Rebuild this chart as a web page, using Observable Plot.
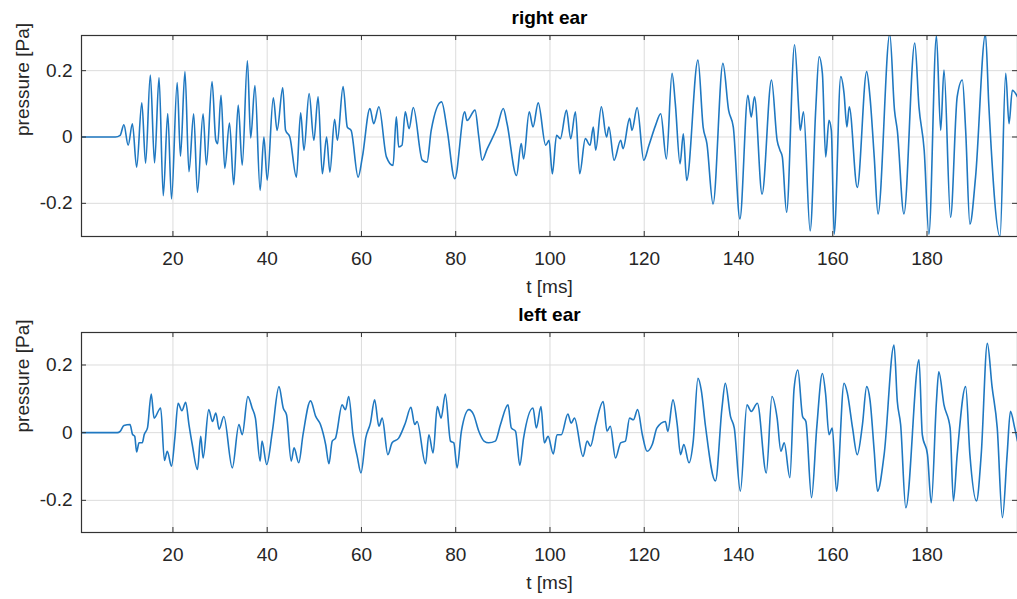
<!DOCTYPE html>
<html><head><meta charset="utf-8">
<script src="https://cdn.jsdelivr.net/npm/d3@7"></script>
<script src="https://cdn.jsdelivr.net/npm/@observablehq/plot@0.6"></script>
<style>
body{margin:0;background:#fff;}
#chart svg{display:block;}
</style></head><body><div id="chart"></div>
<script>
const xTicks = [20, 40, 60, 80, 100, 120, 140, 160, 180];
const yTicks = [-0.2, 0, 0.2];
const yTickLabels = ["-0.2", "0", "0.2"];
const titles = ["right ear", "left ear"];
const xLabel = "t [ms]";
const yLabel = "pressure [Pa]";

// right ear: time [ms] and pressure [Pa]
const tRight = [0.7,7.8,8.8,9.6,10.5,11.4,12.3,13.4,14.2,15.2,16.1,17.05,17.95,18.9,19.7,20.9,21.6,22.55,23.4,24.4,25.2,26.4,27.1,28.3,29.1,29.5,30.2,31.0,32.0,32.9,33.85,34.7,35.8,36.5,37.4,38.5,39.3,40.0,41.3,42.1,43.3,43.9,44.8,46.2,47.1,47.8,48.9,49.9,50.8,51.7,52.6,53.3,54.3,54.9,56.1,57.0,57.8,59.3,60.2,61.8,62.6,63.7,65.3,66.7,67.4,67.9,68.6,69.3,70.1,71.0,72.9,73.9,74.8,77.0,78.2,79.8,81.9,82.4,84.1,84.9,85.6,86.7,88.8,90.1,90.9,92.9,93.9,94.4,95.6,96.4,97.5,99.1,99.8,100.5,101.4,102.2,103.5,104.4,105.4,106.3,107.5,108.5,109.2,109.7,110.9,112.0,112.5,113.6,115.0,115.5,116.9,117.4,118.5,119.9,121.0,122.4,123.5,124.7,125.9,126.6,127.6,128.3,129.0,131.4,132.5,133.3,134.6,136.7,137.9,138.9,140.3,142.0,142.7,143.4,145.0,147.0,148.2,148.8,149.3,150.2,151.9,152.8,153.1,153.8,155.2,156.4,157.1,157.8,158.5,159.2,159.7,160.3,161.7,162.4,163.0,163.5,165.2,167.2,167.9,168.8,169.6,172.1,173.1,173.7,175.1,177.4,178.3,179.4,180.4,182.0,182.9,183.6,185.0,186.4,187.5,188.2,189.1,190.3,192.4,193.1,195.5,196.7,197.4,198.1,199.2];
const pRight = [0,0,0.005,0.037,-0.025,0.04,-0.091,0.103,-0.079,0.187,-0.078,0.179,-0.177,0.071,-0.187,0.164,-0.058,0.197,-0.105,0.07,-0.167,0.07,-0.084,0.167,-0.01,-0.02,0.126,-0.094,0.042,-0.144,0.096,-0.085,0.23,-0.003,0.155,-0.161,0.0,-0.13,0.118,0.02,0.148,0.02,0.0,-0.121,0.073,-0.04,0.131,-0.01,0.121,-0.111,0.0,-0.106,0.053,-0.01,0.152,0.03,0.02,-0.121,-0.06,0.086,0.04,0.091,-0.06,-0.086,0.061,-0.03,-0.025,0.076,0.025,0.089,-0.07,-0.076,0.02,0.106,0.02,-0.126,0.076,0.05,0.081,0.0,-0.07,-0.035,0.03,0.086,0.04,-0.116,-0.02,-0.066,0.076,0.03,0.103,-0.025,-0.01,-0.111,0.005,-0.005,0.081,-0.005,0.076,-0.111,-0.005,-0.025,0.03,-0.04,0.091,0.0,0.03,-0.07,-0.01,-0.035,0.056,0.02,0.089,-0.07,-0.025,0.035,0.07,-0.066,0.192,0.1,-0.081,0.01,-0.131,0.232,0.03,-0.02,-0.202,0.222,0.081,0.03,-0.247,0.126,0.06,0.121,-0.172,0.172,-0.01,-0.04,-0.06,-0.227,0.278,0.08,0.02,0.076,-0.283,0.086,0.242,0.192,-0.06,0.05,0.02,-0.293,0.182,0.131,0.03,0.091,-0.152,0.197,0.121,-0.06,-0.232,0.31,0.081,0.02,-0.232,0.283,0.09,-0.04,-0.293,0.305,0.02,0.202,-0.242,0.121,0.172,0.02,-0.263,-0.121,0.31,0.1,-0.3,0.192,0.04,0.141,0.121];

// left ear: time [ms] and pressure [Pa]
const tLeft = [0.7,8.2,8.8,9.6,10.9,11.4,11.9,12.3,12.8,13.5,13.9,14.6,15.4,16.0,17.4,18.2,18.8,19.7,20.4,21.1,21.9,22.7,23.4,24.1,25.2,25.9,26.4,27.6,28.4,29.1,29.8,30.8,32.6,34.0,34.7,35.9,36.8,37.5,38.5,38.9,39.9,41.1,42.5,43.4,44.1,45.1,45.7,46.7,47.6,49.2,50.3,51.3,52.4,53.1,53.8,54.5,55.9,56.6,57.3,58.2,59.1,59.9,60.9,61.9,62.8,63.7,64.4,65.6,66.5,67.9,69.3,70.5,71.3,71.8,73.6,74.3,75.2,76.1,76.9,77.8,78.9,79.6,80.3,81.2,82.8,83.8,84.9,86.0,87.0,88.4,89.5,91.1,91.8,92.7,93.6,94.4,96.4,97.1,98.1,98.8,99.6,100.7,101.5,102.4,103.8,104.5,105.2,107.0,107.9,108.6,109.7,111.3,112.1,112.8,113.9,115.0,116.0,116.9,117.7,118.6,119.6,120.6,121.7,122.7,124.5,125.0,126.1,127.0,127.7,128.4,129.5,130.4,131.4,132.1,133.0,135.1,136.5,137.2,138.3,139.1,140.4,141.8,142.7,144.0,145.9,147.1,148.2,149.0,149.7,150.9,151.8,152.6,153.6,154.3,155.5,156.6,157.8,158.5,159.2,159.9,160.8,162.4,163.1,164.2,165.2,166.3,167.2,167.9,168.8,169.5,170.9,173.0,173.7,174.4,175.5,178.3,179.0,180.1,180.9,182.0,182.5,183.6,184.9,185.6,186.4,188.2,189.1,190.5,191.5,192.8,193.8,194.9,196.0,197.0,197.7,198.6,199.2];
const pLeft = [0,0,0.004,0.021,0.024,-0.004,-0.011,-0.057,-0.03,-0.03,-0.006,0.014,0.114,0.043,0.073,-0.082,-0.055,-0.099,-0.016,0.087,0.065,0.09,0.024,-0.035,-0.109,-0.011,-0.075,0.068,0.033,0.058,0.01,0.048,-0.104,0.024,-0.006,0.107,0.073,0.043,-0.084,-0.025,-0.094,0.004,0.136,0.073,0.053,-0.084,-0.045,-0.089,-0.006,0.094,0.048,0.024,-0.035,-0.092,-0.025,-0.016,0.082,0.068,0.107,-0.006,-0.07,-0.119,-0.016,0.028,0.097,0.019,0.043,-0.065,-0.03,-0.016,0.028,0.075,0.024,0.033,-0.092,-0.006,-0.06,0.077,0.043,0.114,-0.025,-0.03,-0.104,0.004,0.068,0.053,0.004,-0.025,-0.03,-0.025,0.024,0.082,0.014,0.004,-0.096,-0.016,0.073,0.014,0.077,-0.03,-0.011,-0.063,-0.006,-0.006,0.055,0.028,0.043,-0.07,-0.025,-0.04,0.024,0.092,0.004,0.019,-0.075,-0.03,-0.025,0.043,0.038,0.068,-0.006,-0.055,-0.035,0.014,0.033,0.004,0.097,0.024,-0.065,-0.035,-0.089,-0.025,0.161,0.126,0.019,-0.143,0.073,0.146,0.048,0.014,-0.173,0.082,0.063,0.087,-0.119,0.107,0.043,-0.055,-0.03,-0.133,0.131,0.185,0.048,0.033,-0.192,0.014,0.175,0.112,-0.006,0.014,-0.173,0.146,0.117,0.014,-0.065,0.024,0.136,0.097,-0.055,-0.173,-0.065,0.259,0.092,0.024,-0.222,0.215,-0.006,-0.065,-0.207,0.092,0.18,0.082,0.014,-0.202,-0.065,0.136,-0.065,-0.202,-0.065,0.264,0.136,0.014,-0.251,-0.065,0.063,0.014,-0.025];

const W = 1017, ML = 81, MR = 0, MT = 35;
const FONT = "'Liberation Sans', Arial, Helvetica, sans-serif";
const INK = "#262626";
const FS = 19;

function panel(t, p, title, yDomain, height, frameH) {
  const data = t.map((d, i) => ({t: d, p: p[i]}));
  const frameW = W - ML - MR;
  return Plot.plot({
    width: W, height,
    marginLeft: ML, marginRight: MR, marginTop: MT, marginBottom: height - MT - frameH,
    style: {fontFamily: FONT, fontSize: FS + "px", color: INK, background: "#fff"},
    x: {domain: [0.6, 199.2], label: null},
    y: {domain: yDomain, label: null},
    marks: [
      Plot.gridX(xTicks, {stroke: "#dcdcdc", strokeOpacity: 1}),
      Plot.gridY(yTicks, {stroke: "#dcdcdc", strokeOpacity: 1}),
      Plot.line(data, {x: "t", y: "p", stroke: "#1f78c1", strokeWidth: 1.6, curve: "monotone-x", clip: true}),
      Plot.frame({stroke: "#333", strokeWidth: 1.2}),
      Plot.tickX(xTicks, {x: d => d, stroke: "#333", insetTop: frameH - 5}),
      Plot.tickX(xTicks, {x: d => d, stroke: "#333", insetBottom: frameH - 5}),
      Plot.tickY(yTicks, {y: d => d, stroke: "#333", insetRight: frameW - 5}),
      Plot.tickY(yTicks, {y: d => d, stroke: "#333", insetLeft: frameW - 5}),
      Plot.axisX(xTicks, {anchor: "bottom", tickSize: 0, tickPadding: 15, label: null, fontSize: FS}),
      Plot.axisY(yTicks, {anchor: "left", tickSize: 0, tickPadding: 9, label: null, fontSize: FS,
        tickFormat: d => yTickLabels[yTicks.indexOf(d)]}),
      Plot.text([title], {text: d => d, frameAnchor: "top", dy: -18, lineAnchor: "middle",
        fontWeight: "bold", fontSize: FS, fill: "#000"}),
      Plot.text([xLabel], {text: d => d, frameAnchor: "bottom", dy: 50, lineAnchor: "middle", fontSize: FS, fill: INK}),
      Plot.text([yLabel], {text: d => d, frameAnchor: "left", dx: -59, rotate: -90, lineAnchor: "middle", fontSize: FS, fill: INK})
    ]
  });
}

const chart = document.getElementById("chart");
chart.appendChild(panel(tRight, pRight, titles[0], [-0.3, 0.306], 297, 201));
chart.appendChild(panel(tLeft, pLeft, titles[1], [-0.295, 0.296], 296, 200));
</script></body></html>
